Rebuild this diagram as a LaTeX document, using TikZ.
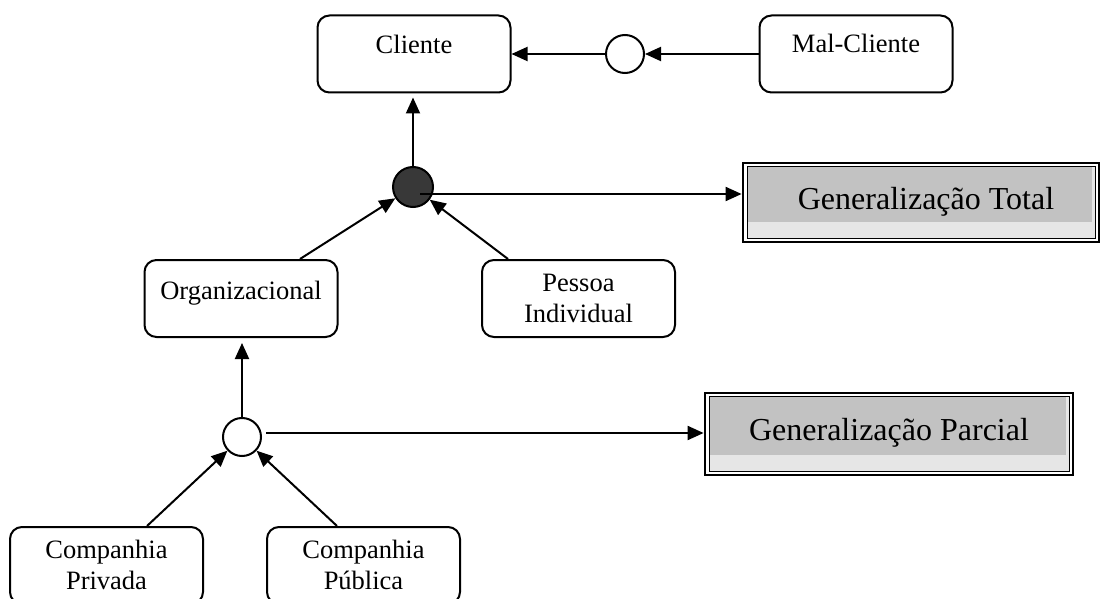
\documentclass[tikz,border=0pt]{standalone}
\usepackage{fontspec}
\setmainfont{Liberation Serif}
\usetikzlibrary{arrows.meta,calc}
\definecolor{panelgray}{HTML}{C2C2C2}
\definecolor{panellight}{HTML}{E6E6E6}
\definecolor{darkjoint}{HTML}{383838}
\begin{document}
\begin{tikzpicture}[x=1pt,y=-1pt,
  box/.style={draw,line width=2pt,rounded corners=12pt,minimum width=193pt,minimum height=77pt,inner sep=0pt},
  lbl/.style={inner sep=0pt,font=\fontsize{26.5}{31}\selectfont,align=center},
  biglbl/.style={inner sep=0pt,font=\fontsize{32}{38}\selectfont},
  conn/.style={line width=2pt,-{Triangle[length=16pt,width=14pt]}},
  joint/.style={circle,draw,line width=2pt,minimum size=38pt,inner sep=0pt,fill=white},
  genframe/.style={draw,line width=2.8pt,fill=white,inner sep=0pt}]
\useasboundingbox (0,0) rectangle (1101,599);

% entity boxes
\node[box] (cliente) at (414,54) {};
\node[box] (malcliente) at (856,54) {};
\node[box] (org) at (241,298.5) {};
\node[box] (pessoa) at (578.5,298.5) {};
\node[box] (privada) at (106.5,565.5) {};
\node[box] (publica) at (363.5,565.5) {};

% entity labels
\node[lbl,anchor=base] (clienteT) at ($(cliente.north)+(0,39)$) {Cliente};
\node[lbl,anchor=base] (malclienteT) at ($(malcliente.north)+(0,38)$) {Mal-Cliente};
\node[lbl,anchor=base] (orgT) at ($(org.north)+(0,40)$) {Organizacional};
\node[lbl,anchor=north] (pessoaT) at ($(pessoa.north)+(0,15)$) {Pessoa\\Individual};
\node[lbl,anchor=north] (privadaT) at ($(privada.north)+(0,14)$) {Companhia\\Privada};
\node[lbl,anchor=north] (publicaT) at ($(publica.north)+(0,14)$) {Companhia\\Pública};

% generalization joints
\node[joint] (mj) at (625,54) {};
\node[joint,fill=darkjoint,minimum size=40pt] (tj) at (413,187) {};
\node[joint] (pj) at (242,437) {};

% generalization kind panels
\node[genframe,minimum width=356pt,minimum height=79pt] (gtotal) at (921,202.5) {};
\node[genframe,minimum width=368pt,minimum height=82pt] (gparcial) at (889,434) {};
\foreach \g in {gtotal,gparcial}{
  \fill[panelgray] ($(\g.north west)+(6,5)$) rectangle ($(\g.south east)+(-5,-5)$);
  \fill[panellight] ($(\g.south west)+(6,-21)$) rectangle ($(\g.south east)+(-5,-5)$);
  \fill[panellight] ($(\g.north east)+(-8,5)$) rectangle ($(\g.south east)+(-5,-5)$);
  \draw[line width=1.6pt] ($(\g.north west)+(6,5)$) rectangle ($(\g.south east)+(-5,-5)$);
}
\node[biglbl,anchor=base] (gtotalT) at (926,210) {Generalização Total};
\node[biglbl,anchor=base] (gparcialT) at (889,440) {Generalização Parcial};

% connectors
\draw[conn] (malcliente.west) -- (mj.east);
\draw[conn] (mj.west) -- (cliente.east);
\draw[conn,shorten >=4pt] (tj.north) -- (tj.north |- cliente.south);
\coordinate (ts) at ($(tj)+(7,7)$);
\draw[conn] (ts) -- (ts -| gtotal.west);
\coordinate (os) at ($(org.north)+(59,0)$);
\draw[conn] (os) -- (tj);
\coordinate (ps) at ($(pessoa.north west)+(27,0)$);
\draw[conn] (ps) -- (tj);
\draw[conn,shorten >=5pt] (pj.north) -- (pj.north |- org.south);
\coordinate (pps) at ($(pj)+(24,-4)$);
\draw[conn] (pps) -- (pps -| gparcial.west);
\coordinate (cps) at ($(privada.north)+(40.5,0)$);
\draw[conn] (cps) -- (pj);
\coordinate (cus) at ($(publica.north)+(-26.5,0)$);
\draw[conn] (cus) -- (pj);
\end{tikzpicture}
\end{document}
